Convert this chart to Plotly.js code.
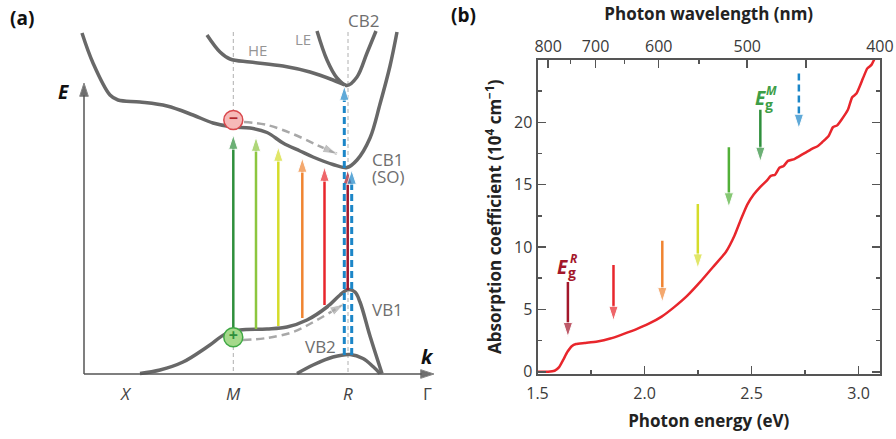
<!DOCTYPE html>
<html><head><meta charset="utf-8">
<script src="https://cdn.plot.ly/plotly-3.0.1.min.js"></script>
<style>html,body{margin:0;padding:0;background:#fff}#chart{width:896px;height:439px}</style>
</head><body><div id="chart"></div>
<script>
// ================= Panel (b): absorption spectrum =================
const energy_eV = [1.50,1.55,1.58,1.60,1.62,1.64,1.66,1.68,1.72,1.78,1.84,1.90,1.96,2.02,2.08,2.14,2.20,2.26,2.32,2.38,2.42,2.45,2.48,2.51,2.54,2.57,2.59,2.61,2.63,2.65,2.67,2.70,2.72,2.75,2.78,2.81,2.83,2.86,2.88,2.90,2.92,2.95,2.97,2.99,3.02,3.04,3.06,3.08];
const absorption = [0.00,0.00,0.08,0.35,0.95,1.60,2.05,2.22,2.30,2.42,2.66,3.02,3.40,3.85,4.42,5.20,6.10,7.20,8.40,9.60,10.9,12.2,13.4,14.2,14.8,15.3,15.7,15.8,16.35,16.5,16.9,17.05,17.25,17.55,17.85,18.1,18.4,18.9,19.6,19.75,20.2,21.0,22.0,22.3,23.5,24.3,24.6,25.3];
const wavelengthTicks_nm = [800,700,600,500,450,400];
const wavelengthLabels = ['800','700','600','500',' ','400'];
const wavelengthMinor_nm = [750,650,550];
const arrowEnergy = [1.642,1.855,2.083,2.249,2.394,2.541,2.721];
const arrowTop    = [7.2,8.55,10.5,13.45,18.0,21.0,23.9];
const arrowTip    = [2.8,4.1,5.6,8.3,13.2,16.85,19.5];
const arrowColors = ['#a3172b','#e8262c','#f08431','#d5dc2a','#52b038','#2f8f3c','#1c86c8'];
const arrowDashed = [false,false,false,false,false,false,true];

// ================= Panel (a): band schematic (arbitrary units) =================
const cb1_k = [-0.02,0.09,0.26,0.34,0.56,0.83,1.09,1.29,1.49,1.66,1.83,1.99,2.16,2.29,2.49,2.63,2.73,2.86,2.96,3.06,3.13];
const cb1_E = [3.41,3.11,2.79,2.74,2.72,2.68,2.59,2.51,2.47,2.46,2.415,2.31,2.23,2.17,2.095,2.065,2.14,2.36,2.70,3.08,3.42];
const he_k = [1.23,1.36,1.46,1.66,1.99,2.26,2.49,2.63];
const he_E = [3.39,3.22,3.15,3.12,3.08,3.02,2.94,2.88];
const le_k = [2.33,2.43,2.53,2.63,2.73,2.83,2.92];
const le_E = [3.43,3.14,2.96,2.885,2.97,3.21,3.43];
const vb1_k = [0.56,0.76,0.99,1.23,1.43,1.56,1.83,2.03,2.23,2.43,2.56,2.64,2.71,2.76,2.86,2.98];
const vb1_E = [0.005,0.04,0.12,0.27,0.41,0.44,0.45,0.47,0.54,0.67,0.79,0.845,0.82,0.72,0.38,0.005];
const vb2_k = [2.13,2.29,2.49,2.66,2.79,2.89,2.96];
const vb2_E = [0.005,0.09,0.17,0.195,0.155,0.075,0.005];
const eRelax_k = [1.60,1.83,2.09,2.33,2.53];
const eRelax_E = [2.52,2.49,2.40,2.29,2.20];
const hRelax_k = [1.59,1.83,2.09,2.33,2.60];
const hRelax_E = [0.34,0.36,0.42,0.54,0.70];
const trans_k    = [1.493,1.72,1.943,2.183,2.405,2.637,2.603,2.677];
const trans_from = [0.45,0.45,0.48,0.56,0.69,0.84,0.19,0.19];
const trans_to   = [2.39,2.37,2.27,2.16,2.07,2.04,2.88,2.04];
const trans_colors = ['#2f8f3c','#8cc63f','#d5dc2a','#f08431','#e8262c','#a3172b','#1c86c8','#1c86c8'];
const trans_dashed = [false,false,false,false,false,false,true,true];
const carrier_k = [1.493,1.493];
const carrier_E = [2.54,0.367];
const guide_k = [1.493,1.493,null,1.493,1.493,null,2.64,2.64];
const guide_E = [3.42,2.63,null,0.28,0,null,3.42,0];
const kPoints = [0.42,1.493,2.635,3.43];
const kLabels = ['<i>X</i>','<i>M</i>','<i>R</i>','Γ'];
const eAxisTop = 2.91, kAxisEnd = 3.5;

const FONT = '"Open Sans", "Liberation Sans", sans-serif';
const BAND = '#686868';
const traces = [];

// ---- panel (a) traces
traces.push({x:guide_k,y:guide_E,xaxis:'x3',yaxis:'y3',mode:'lines',line:{color:'#b0b0b0',width:1,dash:'4px,3px'},hoverinfo:'skip'});
[[cb1_k,cb1_E],[he_k,he_E],[le_k,le_E],[vb1_k,vb1_E],[vb2_k,vb2_E]].forEach(([k,E])=>{
  traces.push({x:k,y:E,xaxis:'x3',yaxis:'y3',mode:'lines',line:{color:BAND,width:3.5,shape:'spline',smoothing:1},hoverinfo:'skip'});
});
traces.push({x:[0,0],y:[0,eAxisTop],xaxis:'x3',yaxis:'y3',mode:'lines+markers',line:{color:'#555',width:1.5},
  marker:{symbol:'arrow',angleref:'previous',size:[0,14],color:'#333'},hoverinfo:'skip'});
traces.push({x:[0,kAxisEnd],y:[0,0],xaxis:'x3',yaxis:'y3',mode:'lines+markers',line:{color:'#555',width:1.5},
  marker:{symbol:'arrow',angleref:'previous',size:[0,14],color:'#333'},hoverinfo:'skip'});
[[eRelax_k,eRelax_E],[hRelax_k,hRelax_E]].forEach(([k,E])=>{
  const sz = k.map((_,i)=> i===k.length-1 ? 15 : 0);
  traces.push({x:k,y:E,xaxis:'x3',yaxis:'y3',mode:'lines+markers',line:{color:'#a8a8a8',width:2.5,dash:'8px,5px',shape:'spline'},
    marker:{symbol:'arrow',angleref:'previous',size:sz,color:'#a8a8a8'},hoverinfo:'skip'});
});
trans_k.forEach((k,i)=>{
  traces.push({x:[k,k],y:[trans_from[i],trans_to[i]],xaxis:'x3',yaxis:'y3',mode:'lines+markers',
    line:{color:trans_colors[i],width:trans_dashed[i]?3:2.5,dash:trans_dashed[i]?'7px,4px':'solid'},
    marker:{symbol:'arrow',angleref:'previous',size:[0,15],color:trans_colors[i]},hoverinfo:'skip'});
});
traces.push({x:carrier_k,y:carrier_E,xaxis:'x3',yaxis:'y3',mode:'markers+text',text:['−','+'],textposition:'middle center',
  textfont:{family:FONT,size:16,color:['#b3262c','#2f8f3c'],weight:700},
  marker:{size:19,color:['#f6b9b8','#a5d98b'],line:{color:['#d9484c','#3fa844'],width:1.5}},hoverinfo:'skip'});

// ---- panel (b) traces
traces.push({x:energy_eV,y:absorption,xaxis:'x',yaxis:'y',mode:'lines',line:{color:'#e8262c',width:2.5,shape:'spline',smoothing:0.5},hoverinfo:'skip'});
arrowEnergy.forEach((e,i)=>{
  traces.push({x:[e,e],y:[arrowTop[i],arrowTip[i]],xaxis:'x',yaxis:'y',mode:'lines+markers',
    line:{color:arrowColors[i],width:2.5,dash:arrowDashed[i]?'7px,4px':'solid'},
    marker:{symbol:'arrow',angleref:'previous',size:[0,15],color:arrowColors[i]},hoverinfo:'skip'});
});
traces.push({x:[1.5],y:[0],xaxis:'x2',yaxis:'y',mode:'markers',marker:{opacity:0},hoverinfo:'skip'});

const toE = nm => 1239.84/nm;
const tickFont = {family:FONT,size:16,color:'#3a3a3a'};
const titleFont = {family:FONT,size:17,color:'#222',weight:700};
const AX = '#555';

const ann = [];
const A = (x,y,text,size,color,extra) => ann.push(Object.assign({x,y,text,xref:'x3',yref:'y3',showarrow:false,
  font:{family:FONT,size,color},xanchor:'center',yanchor:'middle'},extra||{}));
A(-0.21,2.82,'<b><i>E</i></b>',19,'#111');
A(3.43,0.18,'<b><i>k</i></b>',20,'#111');
kPoints.forEach((k,i)=>A(k,-0.19,kLabels[i],17,'#444'));
A(1.737,3.24,'HE',15,'#959595');
A(2.193,3.347,'LE',15,'#959595');
A(2.793,3.54,'CB2',17,'#6e6e6e');
A(2.86,2.147,'CB1',17,'#6e6e6e',{xanchor:'left'});
A(2.86,1.973,'(SO)',17,'#6e6e6e',{xanchor:'left'});
A(2.86,0.647,'VB1',17,'#6e6e6e',{xanchor:'left'});
A(2.36,0.273,'VB2',17,'#6e6e6e');
ann.push({x:22/896,y:1-18/439,xref:'paper',yref:'paper',text:'<b>(a)</b>',showarrow:false,font:{family:FONT,size:19,color:'#111'},xanchor:'center',yanchor:'middle'});
ann.push({x:463/896,y:1-15/439,xref:'paper',yref:'paper',text:'<b>(b)</b>',showarrow:false,font:{family:FONT,size:19,color:'#111'},xanchor:'center',yanchor:'middle'});
const gapLabel = (x,y,sup,color) => {
  ann.push({x,y,xref:'x',yref:'y',text:'<b><i>E</i></b>',showarrow:false,font:{family:FONT,size:19,color},xanchor:'center',yanchor:'middle'});
  ann.push({x,y,xref:'x',yref:'y',text:'<b>g</b>',showarrow:false,font:{family:FONT,size:14,color},xanchor:'center',yanchor:'middle',xshift:9,yshift:-6});
  ann.push({x,y,xref:'x',yref:'y',text:'<b><i>'+sup+'</i></b>',showarrow:false,font:{family:FONT,size:12,color},xanchor:'center',yanchor:'middle',xshift:11,yshift:8});
};
gapLabel(1.618,8.42,'R','#a3172b');
gapLabel(2.541,21.92,'M','#3d9e47');

const layout = {
  width:896,height:439,margin:{l:0,r:0,t:0,b:0},paper_bgcolor:'#fff',plot_bgcolor:'rgba(0,0,0,0)',showlegend:false,
  xaxis:{domain:[537.5/896,880/896],anchor:'y',range:[1.5,3.1],tick0:1.5,dtick:0.5,tickformat:'.1f',ticks:'inside',ticklen:8,tickwidth:1.5,tickcolor:AX,
    minor:{dtick:0.25,tick0:1.5,ticks:'inside',ticklen:4,tickwidth:1.5,tickcolor:AX},ticklabelstandoff:4,
    showline:true,linecolor:AX,linewidth:2,showgrid:false,zeroline:false,tickfont:tickFont,
    title:{text:'Photon energy (eV)',font:titleFont,standoff:12}},
  xaxis2:{overlaying:'x',side:'top',anchor:'y',range:[1.5,3.1],tickmode:'array',tickvals:wavelengthTicks_nm.map(toE),ticktext:wavelengthLabels,
    ticks:'inside',ticklen:8,tickwidth:1.5,tickcolor:AX,
    minor:{tickmode:'array',tickvals:wavelengthMinor_nm.map(toE),ticks:'inside',ticklen:4,tickwidth:1.5,tickcolor:AX},
    showline:true,linecolor:AX,linewidth:2,showgrid:false,zeroline:false,tickfont:tickFont,
    title:{text:'Photon wavelength (nm)',font:titleFont,standoff:10}},
  yaxis:{domain:[(439-373.5)/439,(439-60)/439],anchor:'x',range:[-0.14,24.99],tick0:0,dtick:5,ticks:'inside',ticklen:8,tickwidth:1.5,tickcolor:AX,
    minor:{dtick:2.5,tick0:0,ticks:'inside',ticklen:4,tickwidth:1.5,tickcolor:AX},
    mirror:'ticks',showline:true,linecolor:AX,linewidth:2,showgrid:false,zeroline:false,tickfont:tickFont,
    title:{text:'Absorption coefficient (10<sup>4</sup> cm<sup>−1</sup>)',font:titleFont,standoff:8}},
  xaxis3:{domain:[0,0.5],anchor:'y3',range:[-0.84,3.64],visible:false},
  yaxis3:{domain:[0,1],anchor:'x3',range:[-0.65,3.74],visible:false},
  annotations:ann
};
Plotly.newPlot('chart',traces,layout,{staticPlot:true,displayModeBar:false});
</script></body></html>
